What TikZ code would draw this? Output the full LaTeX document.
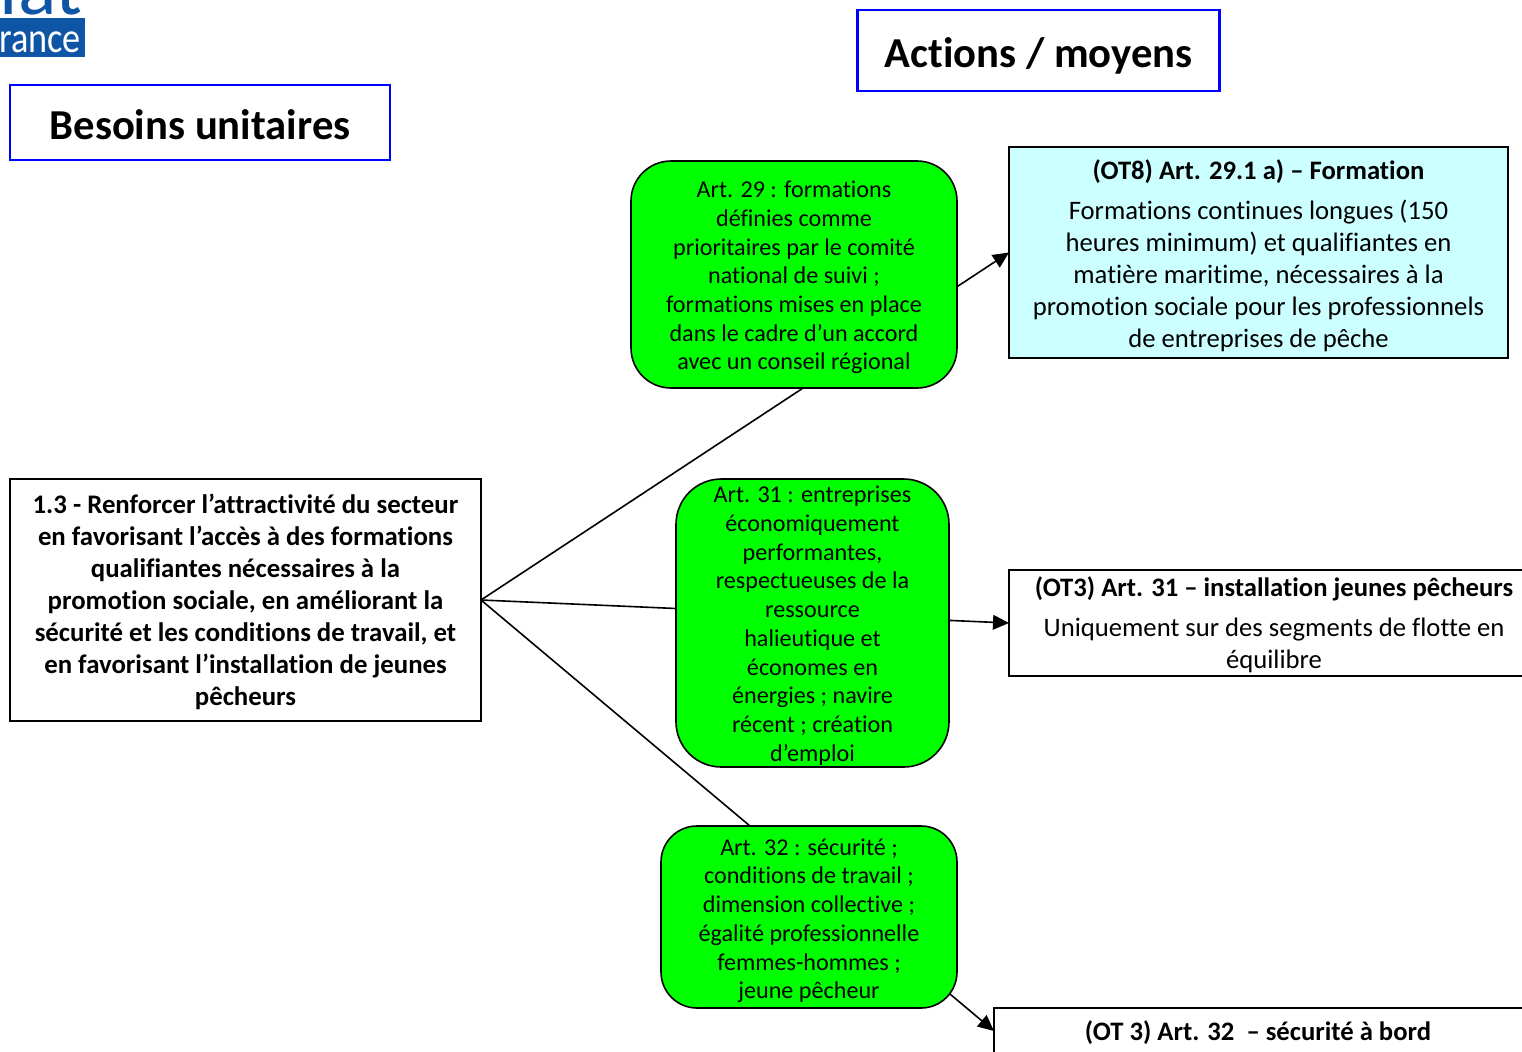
\documentclass[tikz,border=0pt]{standalone}
\usepackage{fontspec}
\setmainfont[Ligatures=CommonOff]{Carlito}
\usetikzlibrary{arrows.meta,backgrounds}
\definecolor{grn}{HTML}{00FF00}
\definecolor{cyn}{HTML}{CCFFFF}
\definecolor{logoblue}{HTML}{0F55A5}
\definecolor{ttl}{HTML}{0000FF}
\newcommand{\fsz}[2]{\fontsize{#1}{#2}\selectfont}
\newcommand{\dn}[1]{\rule{0pt}{#1}}
\tikzset{
  wh/.style 2 args={minimum width=#1*0.75pt,minimum height=#2*0.75pt,inner sep=0pt,outer sep=0pt},
  titlebox/.style={draw=ttl,line width=1.6pt,fill=white,align=center,font=\fsz{32}{38}\bfseries},
  mainbox/.style={draw=black,line width=1.2pt,fill=white,align=center,font=\fsz{20.1}{24}},
  greenbox/.style={draw=black,line width=1.2pt,fill=grn,align=center,font=\fsz{18.1}{21.55}},
  targetbox/.style={draw=black,line width=1.2pt,align=center,font=\fsz{20}{24}},
  link/.style={draw=black,line width=1.2pt},
  arrowlink/.style={link,-{Triangle[length=12pt,width=11pt]}}
}
\begin{document}
\begin{tikzpicture}[x=0.75pt,y=-0.75pt]
\useasboundingbox (0,0) rectangle (1522,1051);
\begin{scope}
\clip (0,0) rectangle (1522,1051);
\node[wh={90}{39},fill=logoblue,text=white,anchor=north east,align=center,font=\fsz{32}{36}] (logoband) at (85,18) {\dn{23pt}\scalebox{0.85}[1]{rance}};
\node[anchor=base east,text=logoblue,inner sep=0pt,font=\fsz{60}{60}] (logotop) at (83,14) {iat};
\node[titlebox,wh={380}{75}] (besoins) at (200,122.5) {\dn{25.5pt}Besoins unitaires};
\node[titlebox,wh={362}{81}] (actions) at (1038.5,50.5) {\dn{30.5pt}Actions / moyens};
\node[mainbox,wh={471}{242}] (main) at (245.5,600) {\dn{17pt}\textbf{1.3 - Renforcer l’attractivité du secteur}\\\textbf{en favorisant l’accès à des formations}\\\textbf{qualifiantes nécessaires à la}\\\textbf{promotion sociale, en améliorant la}\\\textbf{sécurité et les conditions de travail, et}\\\textbf{en favorisant l’installation de jeunes}\\\textbf{pêcheurs}};
\node[greenbox,rounded corners=30pt,wh={326}{227}] (g1) at (794,274.5) {\dn{17pt}Art. 29 : formations\\définies comme\\prioritaires par le comité\\national de suivi ;\\formations mises en place\\dans le cadre d’un accord\\avec un conseil régional};
\node[greenbox,rounded corners=34pt,wh={273}{288}] (g2) at (812.5,623) {\dn{16.5pt}Art. 31 : entreprises\\économiquement\\performantes,\\respectueuses de la\\ressource\\halieutique et\\économes en\\énergies ; navire\\récent ; création\\d’emploi};
\node[greenbox,rounded corners=27pt,wh={296}{182}] (g3) at (809,917) {\dn{18pt}Art. 32 : sécurité ;\\conditions de travail ;\\dimension collective ;\\égalité professionnelle\\femmes-hommes ;\\jeune pêcheur};
\node[targetbox,fill=cyn,wh={499}{211}] (t1) at (1258.5,252.5) {\dn{19pt}\textbf{(OT8) Art. 29.1 a) – Formation}\\[6pt]Formations continues longues (150\\heures minimum) et qualifiantes en\\matière maritime, nécessaires à la\\promotion sociale pour les professionnels\\de entreprises de pêche};
\node[targetbox,fill=white,wh={530}{106}] (t2) at (1274,623) {\dn{18pt}\textbf{(OT3) Art. 31 – installation jeunes pêcheurs}\\[6pt]Uniquement sur des segments de flotte en\\équilibre};
\node[targetbox,fill=white,wh={536}{100},anchor=north west] (t3) at (994,1008) {};
\node[font=\fsz{20}{24},inner sep=0pt] (t3label) at (1258,1033) {\textbf{(OT 3) Art. 32\ \ – sécurité à bord}};
\end{scope}
\coordinate (t3in) at (994,1031);
\begin{pgfonlayer}{background}
\draw[arrowlink] (main.east) -- (t1.west);
\draw[arrowlink] (main.east) -- (t2.west);
\draw[arrowlink] (main.east) -- (t3in);
\end{pgfonlayer}
\end{tikzpicture}
\end{document}
